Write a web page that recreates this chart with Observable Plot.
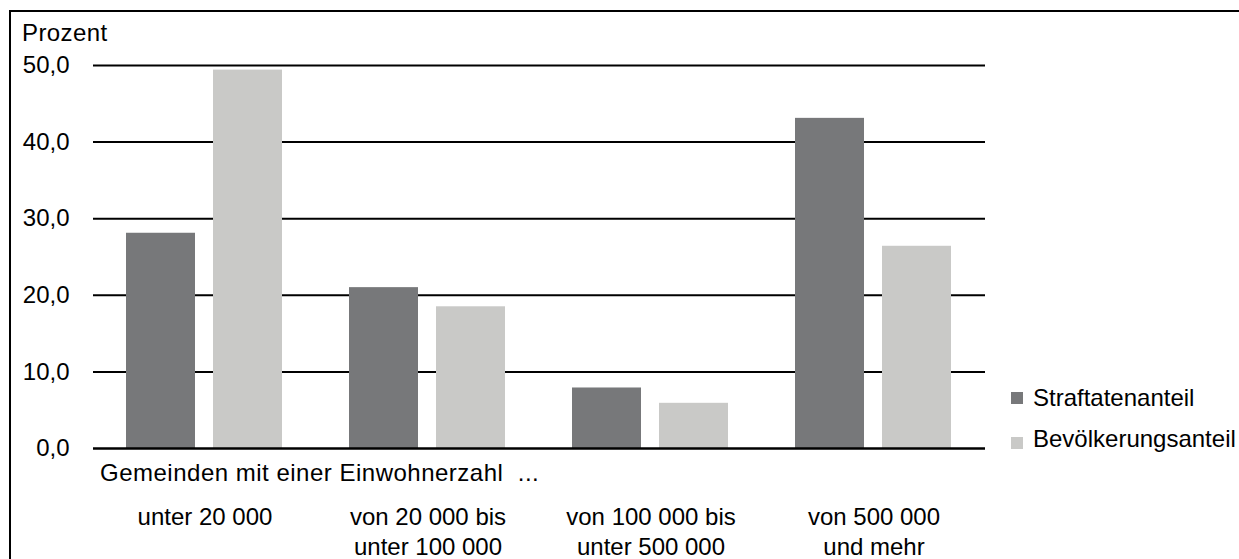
<!DOCTYPE html>
<html><head><meta charset="utf-8">
<script src="https://cdn.jsdelivr.net/npm/d3@7"></script>
<script src="https://cdn.jsdelivr.net/npm/@observablehq/plot@0.6"></script>
<style>
html,body{margin:0;padding:0;background:#fff;overflow:hidden;width:1239px;height:559px;}
body{position:relative;font-family:"Liberation Sans",Arial,sans-serif;}
#frame{position:absolute;left:9px;top:10px;width:1300px;height:600px;border:2px solid #000;box-sizing:border-box;}
#chart{position:absolute;left:0;top:0;}
.lbl{position:absolute;font-size:24px;line-height:24px;white-space:pre;color:#000;}
.sw{position:absolute;width:12px;height:12px;}
</style>
</head><body>
<div id="frame"></div>
<div id="chart"></div>
<div class="lbl" id="ylabel" style="left:22px;top:21px;letter-spacing:0.4px;"></div>
<div class="lbl" id="xlabel" style="left:100px;top:461px;letter-spacing:0.5px;"></div>
<div id="legend"></div>
<script>
const categories = ["unter 20 000", "von 20 000 bis\nunter 100 000", "von 100 000 bis\nunter 500 000", "von 500 000\nund mehr"];
const series = ["Straftatenanteil", "Bevölkerungsanteil"];
const straftatenanteil = [28.1, 21.0, 7.9, 43.1];
const bevoelkerungsanteil = [49.4, 18.5, 5.9, 26.4];
const yTicks = [0, 10, 20, 30, 40, 50];
const colors = ["#77787a", "#c9c9c7"];
const yTitle = "Prozent";
const xTitle = "Gemeinden mit einer Einwohnerzahl  ...";

const data = categories.flatMap((c, i) => [
  {cat: c, series: series[0], value: straftatenanteil[i]},
  {cat: c, series: series[1], value: bevoelkerungsanteil[i]}
]);

const fmt = d => d.toFixed(1).replace(".", ",");

const chart = Plot.plot({
  width: 1239,
  height: 559,
  marginTop: 65,
  marginBottom: 111,
  marginLeft: 92,
  marginRight: 254,
  style: {fontFamily: '"Liberation Sans", Arial, sans-serif', fontSize: "24px", color: "#000", background: "transparent", overflow: "visible"},
  fx: {domain: categories, padding: 0, label: null},
  x: {domain: series, paddingInner: 0.2045, paddingOuter: 0.371, axis: null},
  y: {domain: [0, 50], label: null},
  color: {domain: series, range: colors},
  marks: [
    Plot.ruleY(yTicks.filter(d => d > 0), {stroke: "#000", strokeWidth: 2}),
    Plot.barY(data, {fx: "cat", x: "series", y: "value", fill: "series"}),
    Plot.ruleY([0], {stroke: "#000", strokeWidth: 2.5}),
    Plot.axisY({ticks: yTicks, tickSize: 0, tickPadding: 24, tickFormat: fmt, label: null, fontSize: 24}),
    Plot.axisFx({anchor: "bottom", tickSize: 0, tickPadding: 55, label: null, lineHeight: 1.25, fontSize: 24})
  ]
});
document.getElementById("chart").appendChild(chart);
document.getElementById("ylabel").textContent = yTitle;
document.getElementById("xlabel").textContent = xTitle;

const legend = document.getElementById("legend");
const rows = [{sq: 392, tx: 386}, {sq: 437, tx: 427}];
series.forEach((s, i) => {
  const sw = document.createElement("div");
  sw.className = "sw";
  sw.style.left = "1011px";
  sw.style.top = rows[i].sq + "px";
  sw.style.background = colors[i];
  legend.appendChild(sw);
  const t = document.createElement("div");
  t.className = "lbl";
  t.style.left = "1033px";
  t.style.top = rows[i].tx + "px";
  t.textContent = s;
  legend.appendChild(t);
});
</script>
</body></html>
